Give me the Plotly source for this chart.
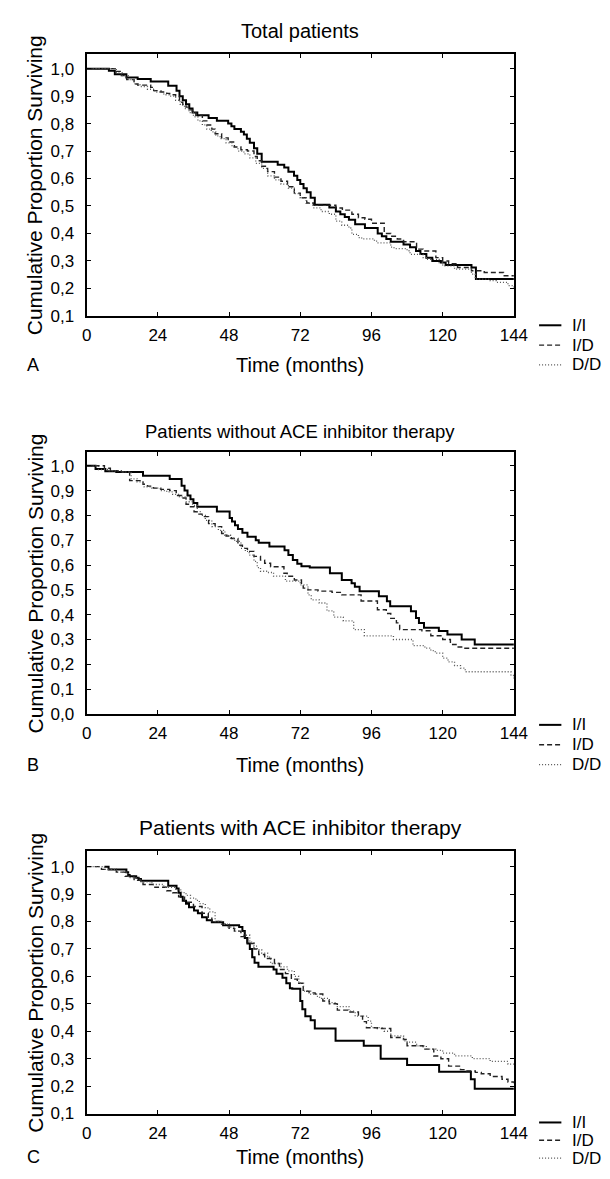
import plotly.graph_objects as go

# ---------------- data (Kaplan-Meier step curves) -------------
# Panel A: Total patients
A_II_t = [0, 7.5, 9.5, 13.4, 17.2, 21.6, 27.5, 30.3, 31.3, 32.4,
          33.5, 34.6, 35.7, 37.3, 41.1, 43.9, 47.7, 48.8, 49.8, 52,
          53, 54, 55, 56.4, 57.5, 59, 64.4, 66.6, 68, 69.9,
          71, 72, 73.1, 74.2, 75.5, 76.9, 81.8, 84, 85.5, 87,
          88.4, 90.5, 93.8, 98.1, 99.5, 101, 102.5, 106.8, 109, 111,
          112.5, 114.5, 116.5, 119.4, 121, 129.7, 131.2, 144]
A_II_s = [1.0, 0.992, 0.98, 0.968, 0.962, 0.953, 0.938, 0.92, 0.90, 0.885,
          0.87, 0.855, 0.84, 0.83, 0.82, 0.81, 0.80, 0.79, 0.78, 0.77,
          0.76, 0.745, 0.73, 0.71, 0.69, 0.661, 0.65, 0.64, 0.625, 0.61,
          0.595, 0.58, 0.565, 0.55, 0.53, 0.505, 0.495, 0.48, 0.47, 0.46,
          0.45, 0.434, 0.42, 0.40, 0.39, 0.38, 0.37, 0.36, 0.35, 0.336,
          0.325, 0.312, 0.30, 0.294, 0.285, 0.276, 0.234, 0.234]

A_ID_t = [0, 9.6, 11.7, 13.5, 16, 17.2, 21.6, 22.6, 25, 27,
          28, 30, 31.3, 32.4, 33.5, 34.6, 35.7, 36.8, 39, 40.5,
          42.2, 43.3, 45.5, 47.7, 49.8, 52, 54.2, 56.4, 57.5, 59,
          61, 63.3, 65.5, 67.7, 70, 72, 74.2, 76.4, 84, 86.2,
          89.4, 91.6, 93.8, 96, 100.3, 102.5, 104.7, 106.8, 111.2, 113.4,
          117.7, 120, 122, 125, 129.7, 134, 140.5, 144]
A_ID_s = [1.0, 0.99, 0.975, 0.96, 0.944, 0.94, 0.932, 0.92, 0.915, 0.91,
          0.905, 0.90, 0.878, 0.868, 0.86, 0.85, 0.84, 0.83, 0.81, 0.795,
          0.78, 0.763, 0.748, 0.733, 0.715, 0.705, 0.70, 0.68, 0.665, 0.645,
          0.625, 0.605, 0.59, 0.57, 0.547, 0.53, 0.511, 0.503, 0.493, 0.485,
          0.47, 0.457, 0.452, 0.437, 0.40, 0.39, 0.38, 0.37, 0.343, 0.336,
          0.312, 0.30, 0.29, 0.276, 0.264, 0.258, 0.246, 0.246]

A_DD_t = [0, 10, 12, 14, 16, 18, 20.5, 23, 26, 28,
          30, 31.5, 33, 34.5, 36, 37.5, 39, 40.5, 42, 43.5,
          45, 47, 49, 51, 53, 55, 57, 59, 61, 63.3,
          65.5, 68, 70, 72, 74, 76.4, 79, 81.8, 84, 86,
          88.4, 89.4, 91.6, 92.7, 97, 98, 102.5, 103.6, 108, 109,
          113.4, 114.5, 118.8, 120, 124, 129.7, 131, 136, 138, 142,
          144]
A_DD_s = [1.0, 0.985, 0.975, 0.96, 0.945, 0.935, 0.925, 0.915, 0.905, 0.90,
          0.885, 0.87, 0.855, 0.84, 0.825, 0.81, 0.795, 0.78, 0.77, 0.755,
          0.745, 0.73, 0.715, 0.70, 0.69, 0.675, 0.655, 0.637, 0.61, 0.595,
          0.58, 0.565, 0.545, 0.53, 0.51, 0.493, 0.48, 0.47, 0.445, 0.43,
          0.42, 0.397, 0.385, 0.38, 0.372, 0.366, 0.35, 0.345, 0.337, 0.324,
          0.312, 0.306, 0.294, 0.282, 0.27, 0.252, 0.234, 0.228, 0.222, 0.21,
          0.198]

# Panel B: Patients without ACE inhibitor therapy
B_II_t = [0, 3, 6.3, 10, 19, 28, 32, 33, 34, 35,
          36, 37.3, 43.9, 48.2, 49, 50, 51, 52.5, 54.2, 57,
          58, 61.6, 66.7, 68, 69.5, 71, 72.4, 75.2, 82, 86,
          89.3, 90.4, 92, 98.5, 101.2, 102.3, 109.3, 111, 112, 113.7,
          118.7, 121.6, 126.4, 130.8, 144]
B_II_s = [1.0, 0.987, 0.978, 0.975, 0.96, 0.947, 0.92, 0.90, 0.88, 0.865,
          0.85, 0.835, 0.816, 0.79, 0.775, 0.76, 0.745, 0.73, 0.714, 0.70,
          0.69, 0.675, 0.66, 0.64, 0.62, 0.605, 0.595, 0.59, 0.567, 0.54,
          0.527, 0.513, 0.494, 0.474, 0.454, 0.434, 0.414, 0.387, 0.367, 0.347,
          0.334, 0.32, 0.30, 0.28, 0.28]

B_ID_t = [0, 6, 8, 11.7, 14.5, 19, 20.5, 22.5, 25, 28,
          30.2, 32, 33.5, 35, 36.2, 37.5, 38.9, 41.1, 43.3, 45.5,
          47, 48.8, 51, 52.5, 54.2, 56.4, 58.6, 60, 62, 66.5,
          67.6, 70, 72.4, 73, 74.6, 78, 82.7, 86, 92.5, 98,
          101, 102.5, 104.4, 105.5, 113, 116, 120, 122.6, 124.5, 126.4,
          144]
B_ID_s = [1.0, 0.99, 0.98, 0.975, 0.94, 0.925, 0.918, 0.91, 0.905, 0.90,
          0.88, 0.87, 0.845, 0.835, 0.815, 0.805, 0.795, 0.767, 0.755, 0.727,
          0.717, 0.707, 0.68, 0.667, 0.655, 0.635, 0.62, 0.607, 0.593, 0.567,
          0.555, 0.54, 0.52, 0.507, 0.50, 0.495, 0.49, 0.48, 0.455, 0.42,
          0.405, 0.385, 0.367, 0.34, 0.335, 0.315, 0.30, 0.28, 0.27, 0.265,
          0.265]

B_DD_t = [0, 4, 7, 11.7, 15, 17, 19.4, 22, 24.8, 27,
          29, 31.3, 33.5, 35.7, 37.3, 38.5, 40, 42.2, 44.4, 46.6,
          48.5, 49.9, 52, 53.5, 54.8, 56.4, 57.5, 58.6, 61, 63,
          67, 72, 74.6, 75.7, 78.4, 81, 83.3, 86.5, 90, 93.6,
          103.4, 110, 114, 116, 117.5, 120, 121.8, 124, 126, 127.6,
          143, 144]
B_DD_s = [1.0, 0.985, 0.98, 0.975, 0.947, 0.935, 0.915, 0.91, 0.90, 0.895,
          0.885, 0.875, 0.855, 0.84, 0.815, 0.80, 0.78, 0.755, 0.74, 0.72,
          0.708, 0.695, 0.667, 0.655, 0.64, 0.615, 0.59, 0.575, 0.57, 0.555,
          0.535, 0.52, 0.48, 0.46, 0.447, 0.415, 0.39, 0.375, 0.34, 0.315,
          0.30, 0.275, 0.265, 0.255, 0.245, 0.225, 0.21, 0.195, 0.185, 0.17,
          0.155, 0.135]

# Panel C: Patients with ACE inhibitor therapy
C_II_t = [6, 7.4, 13.4, 14, 14.5, 16.7, 17.5, 18.3, 27.5, 30.3,
          31, 31.7, 32.4, 33.5, 34.5, 36.2, 37.5, 38.9, 40.5, 42.2,
          46, 51.4, 52.5, 53.3, 54.2, 55, 55.8, 56.6, 57.9, 63,
          64, 66, 67.3, 68.5, 69.3, 72, 72.7, 73.7, 75.5, 76.9,
          83.9, 93.4, 99.1, 108, 118.8, 129.5, 130.8, 144]
C_II_s = [1.0, 0.99, 0.98, 0.97, 0.965, 0.96, 0.955, 0.949, 0.93, 0.92,
          0.905, 0.89, 0.876, 0.865, 0.852, 0.84, 0.83, 0.816, 0.805, 0.797,
          0.786, 0.78, 0.765, 0.74, 0.72, 0.70, 0.67, 0.65, 0.635, 0.625,
          0.61, 0.595, 0.575, 0.557, 0.555, 0.51, 0.48, 0.455, 0.44, 0.41,
          0.365, 0.347, 0.30, 0.277, 0.252, 0.225, 0.19, 0.19]

C_ID_t = [0, 5, 10, 13, 16, 19, 23, 27, 29, 31,
          33, 36, 38.9, 41, 42.2, 45.5, 48, 49.8, 52, 54,
          56.4, 58, 60, 63.3, 65, 67, 69, 71, 73, 75,
          77, 79.6, 81.8, 84.5, 88.4, 91.6, 93, 94.3, 98, 102.5,
          106.8, 108, 113.4, 117, 119.4, 122, 126, 128, 131, 133,
          136, 140, 142, 144]
C_ID_s = [1.0, 0.99, 0.98, 0.965, 0.95, 0.935, 0.925, 0.912, 0.905, 0.89,
          0.87, 0.855, 0.83, 0.815, 0.80, 0.79, 0.775, 0.765, 0.745, 0.72,
          0.70, 0.68, 0.665, 0.647, 0.625, 0.61, 0.59, 0.575, 0.546, 0.54,
          0.536, 0.51, 0.50, 0.477, 0.47, 0.455, 0.435, 0.413, 0.41, 0.377,
          0.37, 0.347, 0.335, 0.31, 0.30, 0.273, 0.26, 0.255, 0.25, 0.245,
          0.235, 0.225, 0.215, 0.21]

C_DD_t = [0, 6, 10, 14, 18, 22, 26, 30, 32, 33.5,
          35, 36.8, 38, 40, 41.5, 43.3, 45.5, 47.7, 50, 53,
          55, 56.4, 57.5, 59, 61, 62, 65.5, 67.7, 70, 71.5,
          73.1, 75.5, 77.5, 78.5, 81.8, 84.5, 88.4, 90.5, 94.9, 96,
          100.3, 102.5, 106.8, 108, 111.2, 114.5, 117.7, 120, 124, 130,
          136, 142, 144]
C_DD_s = [1.0, 0.99, 0.98, 0.96, 0.945, 0.935, 0.925, 0.915, 0.905, 0.895,
          0.885, 0.877, 0.865, 0.85, 0.835, 0.80, 0.79, 0.78, 0.765, 0.75,
          0.725, 0.71, 0.697, 0.685, 0.67, 0.647, 0.635, 0.62, 0.60, 0.575,
          0.546, 0.535, 0.527, 0.52, 0.504, 0.49, 0.473, 0.455, 0.437, 0.413,
          0.40, 0.383, 0.365, 0.36, 0.347, 0.335, 0.33, 0.32, 0.31, 0.30,
          0.29, 0.28, 0.275]

# Axis ticks and labels
x_ticks = [0, 24, 48, 72, 96, 120, 144]
y_ticks_01 = [0.1, 0.2, 0.3, 0.4, 0.5, 0.6, 0.7, 0.8, 0.9, 1.0]
y_labels_01 = ["0,1", "0,2", "0,3", "0,4", "0,5", "0,6", "0,7", "0,8", "0,9", "1,0"]
y_ticks_00 = [0.0] + y_ticks_01
y_labels_00 = ["0,0"] + y_labels_01

panel_titles = ["Total patients",
                "Patients without ACE inhibitor therapy",
                "Patients with ACE inhibitor therapy"]
panel_letters = ["A", "B", "C"]
series_names = ["I/I", "I/D", "D/D"]
x_title = "Time (months)"
y_title = "Cumulative Proportion Surviving"

# ---------------- layout helpers (pixel -> paper) ----------------
W, H = 610, 1179
def px(x):
    return x / W
def py(y):
    return 1 - y / H

FONT = "Liberation Sans, Arial, sans-serif"
styles = [dict(color="black", width=2.0, dash="solid"),
          dict(color="#222222", width=1.4, dash="5px,3px"),
          dict(color="#555555", width=1.3, dash="1px,2px")]

panels = [
    dict(data=[(A_II_t, A_II_s), (A_ID_t, A_ID_s), (A_DD_t, A_DD_s)],
         box=(76, 517, 46.5, 310.5), yrange=[0.1, 1.053],
         yt=y_ticks_01, yl=y_labels_01, title_y=23, title_size=20,
         row_y=360, leg_y=[320, 340, 360]),
    dict(data=[(B_II_t, B_II_s), (B_ID_t, B_ID_s), (B_DD_t, B_DD_s)],
         box=(76, 517, 448.3, 712), yrange=[0.0, 1.0535],
         yt=y_ticks_00, yl=y_labels_00, title_y=427, title_size=18.5,
         row_y=763, leg_y=[723, 743, 763]),
    dict(data=[(C_II_t, C_II_s), (C_ID_t, C_ID_s), (C_DD_t, C_DD_s)],
         box=(76, 517, 850.5, 1115), yrange=[0.1, 1.056],
         yt=y_ticks_01, yl=y_labels_01, title_y=827, title_size=21,
         row_y=1159, leg_y=[1124, 1142, 1160]),
]

fig = go.Figure()
annotations = []
shapes = []
layout_axes = {}

for i, p in enumerate(panels):
    k = "" if i == 0 else str(i + 1)
    x0, x1, ytop, ybot = p["box"]
    for (t, s), st, name in zip(p["data"], styles, series_names):
        fig.add_trace(go.Scatter(
            x=t, y=s, mode="lines", name=name, showlegend=False,
            line=dict(shape="hv", color=st["color"], width=st["width"], dash=st["dash"]),
            xaxis="x" + k, yaxis="y" + k, hoverinfo="skip"))
    layout_axes["xaxis" + k] = dict(
        domain=[px(x0), px(x1)], range=[0, 144], anchor="y" + k,
        tickvals=x_ticks, ticktext=[str(v) for v in x_ticks],
        ticks="inside", ticklen=4, tickwidth=1.2, tickcolor="black",
        showline=True, linecolor="black", linewidth=2, mirror="ticks",
        showgrid=False, zeroline=False, ticklabelstandoff=3,
        tickfont=dict(family=FONT, size=17, color="black"))
    layout_axes["yaxis" + k] = dict(
        domain=[py(ybot), py(ytop)], range=p["yrange"], anchor="x" + k,
        tickvals=p["yt"], ticktext=p["yl"],
        ticks="inside", ticklen=4, tickwidth=1.2, tickcolor="black",
        showline=True, linecolor="black", linewidth=2, mirror="ticks",
        showgrid=False, zeroline=False, ticklabelstandoff=7,
        tickfont=dict(family=FONT, size=17, color="black"))

    xc = px((x0 + x1) / 2)
    annotations.append(dict(text=panel_titles[i], x=xc, y=py(p["title_y"]),
                            xref="paper", yref="paper", showarrow=False,
                            xanchor="center", yanchor="middle",
                            font=dict(family=FONT, size=p["title_size"], color="black")))
    annotations.append(dict(text=x_title, x=xc, y=py(p["row_y"]),
                            xref="paper", yref="paper", showarrow=False,
                            xanchor="center", yanchor="middle",
                            font=dict(family=FONT, size=20, color="black")))
    annotations.append(dict(text=panel_letters[i], x=px(12), y=py(p["row_y"]),
                            xref="paper", yref="paper", showarrow=False,
                            xanchor="left", yanchor="middle",
                            font=dict(family=FONT, size=18, color="black")))
    annotations.append(dict(text=y_title, x=px(23), y=py((ytop + ybot) / 2),
                            xref="paper", yref="paper", showarrow=False,
                            textangle=-90, xanchor="center", yanchor="middle",
                            font=dict(family=FONT, size=21, color="black")))
    for st, name, ly in zip(styles, series_names, p["leg_y"]):
        shapes.append(dict(type="line", xref="paper", yref="paper",
                           x0=px(543), x1=px(566), y0=py(ly), y1=py(ly),
                           line=dict(color=st["color"], width=st["width"], dash=st["dash"])))
        annotations.append(dict(text=name, x=px(575), y=py(ly),
                                xref="paper", yref="paper", showarrow=False,
                                xanchor="left", yanchor="middle",
                                font=dict(family=FONT, size=17, color="black")))

fig.update_layout(
    width=W, height=H, margin=dict(l=0, r=0, t=0, b=0),
    paper_bgcolor="white", plot_bgcolor="white",
    showlegend=False, annotations=annotations, shapes=shapes,
    **layout_axes)

fig.write_html("out.html")
